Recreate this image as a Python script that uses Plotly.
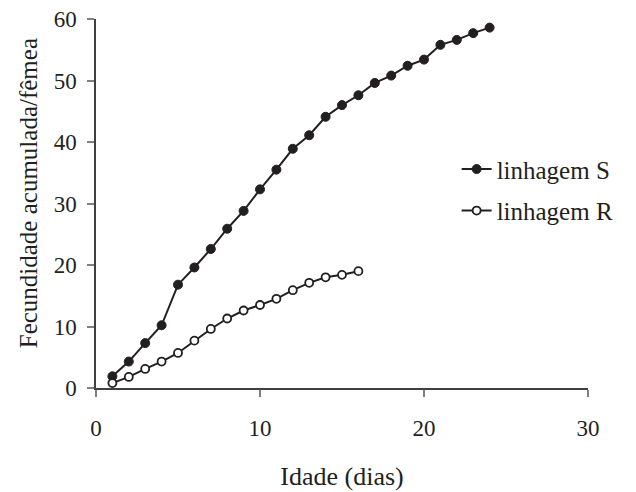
import plotly.graph_objects as go

dias_S = list(range(1, 25))
fecund_S = [1.9, 4.3, 7.3, 10.2, 16.8, 19.6, 22.6, 25.9, 28.8, 32.3, 35.5, 38.9,
            41.1, 44.1, 46.0, 47.6, 49.6, 50.8, 52.4, 53.4, 55.8, 56.6, 57.7, 58.6]
dias_R = list(range(1, 17))
fecund_R = [0.8, 1.8, 3.1, 4.3, 5.7, 7.7, 9.6, 11.3, 12.6, 13.5, 14.5, 15.9,
            17.1, 18.0, 18.4, 19.0]
x_ticks = [0, 10, 20, 30]
y_ticks = [0, 10, 20, 30, 40, 50, 60]

ink = "#231f20"
font = "Liberation Serif, Times New Roman, serif"

fig = go.Figure()
fig.add_trace(go.Scatter(
    x=dias_S, y=fecund_S, mode="lines+markers", name="linhagem S", legendgroup="S",
    line=dict(color=ink, width=2),
    marker=dict(symbol="circle", size=9, color=ink, line=dict(color=ink, width=1)),
))
fig.add_trace(go.Scatter(
    x=dias_R, y=fecund_R, mode="lines+markers", name="linhagem R", legendgroup="R",
    line=dict(color=ink, width=2),
    marker=dict(symbol="circle", size=8, color="white", line=dict(color=ink, width=1.8)),
))

fig.update_layout(
    width=628, height=484,
    margin=dict(l=88, r=48, t=10.5, b=103.5, autoexpand=False),
    paper_bgcolor="white", plot_bgcolor="white",
    font=dict(family=font, size=23, color=ink),
    showlegend=True,
    legend=dict(x=0.733, y=0.655, xanchor="left", yanchor="top",
                font=dict(family=font, size=25, color=ink),
                bgcolor="rgba(0,0,0,0)", tracegroupgap=6, itemwidth=30),
    annotations=[dict(
        text="Fecundidade acumulada/fêmea", textangle=-90,
        xref="paper", yref="paper", x=-0.138, y=0.528,
        xanchor="center", yanchor="middle", showarrow=False,
        font=dict(family=font, size=25, color=ink),
    )],
)
fig.update_xaxes(
    range=[0, 30], tickvals=x_ticks, ticktext=[str(v) for v in x_ticks],
    showgrid=False, zeroline=False, showline=True, linecolor="#404040", linewidth=1.5,
    ticks="outside", ticklen=7, tickcolor="#808080", tickwidth=1.5,
    ticklabelstandoff=12, ticklabeloverflow="allow",
    title=dict(text="Idade (dias)", font=dict(family=font, size=26, color=ink), standoff=26),
    automargin=False,
)
fig.update_yaxes(
    range=[0, 60], tickvals=y_ticks, ticktext=[str(v) for v in y_ticks],
    showgrid=False, zeroline=False, showline=True, linecolor="#404040", linewidth=1.5,
    ticks="outside", ticklen=7, tickcolor="#808080", tickwidth=1.5,
    ticklabelstandoff=6, ticklabeloverflow="allow",
    automargin=False,
)

fig.write_html("out.html")
